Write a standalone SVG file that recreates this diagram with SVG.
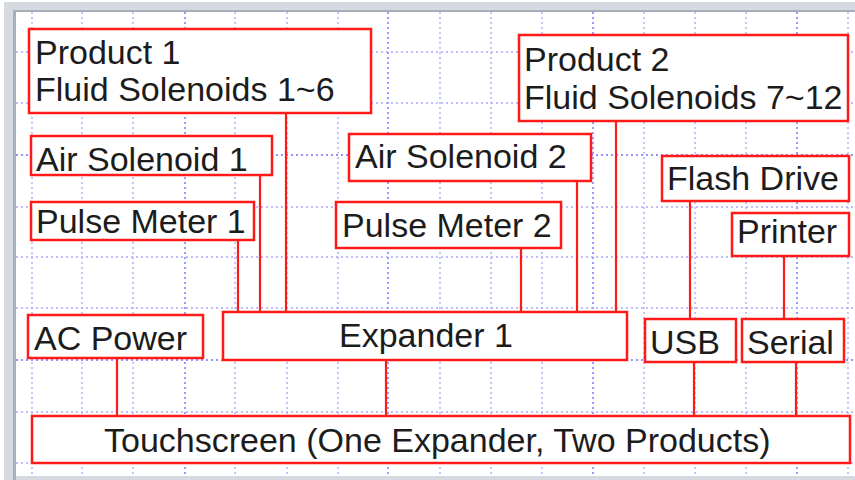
<svg xmlns="http://www.w3.org/2000/svg" width="855" height="480" viewBox="0 0 855 480">
<defs>
<style>
.bg{fill:#ffffff}
.frame{fill:#d6dae0}
.frameEdge{fill:#a7afba}
.g{stroke:#a8a8ff;stroke-width:1.3;stroke-dasharray:2 3;fill:none}
.gm{stroke:#7272ff;stroke-width:1.4;stroke-dasharray:2 3;fill:none}
.box{fill:#ffffff;stroke:#ff1a1a;stroke-width:2.5}
.t{font-family:"Liberation Sans",Arial,sans-serif;font-size:34px;fill:#1c1c1c}
.c{stroke:#ff1a1a;stroke-width:2.2;fill:none}
</style>
</defs>
<rect class="bg" x="0" y="0" width="855" height="480"/>
<!-- window frame -->
<rect class="frame" x="4" y="2" width="851" height="10"/>
<rect class="frame" x="4" y="2" width="12" height="478"/>
<rect class="frameEdge" x="13" y="10" width="3" height="470"/>
<rect class="frameEdge" x="13" y="10" width="842" height="2"/>
<rect class="frame" x="16" y="476" width="839" height="4"/>
<!-- grid -->
<g id="grid">
<path class="g" d="M32 12V476M82 12V476M133 12V476M235 12V476M287 12V476M338 12V476M440 12V476M491 12V476M542 12V476M644 12V476M695 12V476M746 12V476M848 12V476"/>
<path class="gm" d="M185 12V476M388 12V476M593 12V476M797 12V476"/>
<path class="g" d="M16 52H855M16 103H855M16 207H855M16 257H855M16 308H855M16 412H855M16 463H855"/>
<path class="gm" d="M16 155H855M16 360H855"/>
</g>
<!-- connectors -->
<g id="connectors">
<path class="c" d="M238 240V312M260 175V312M286 113V312"/>
<path class="c" d="M521 248V312M577 181V312M616 121V312"/>
<path class="c" d="M690 201V319M784 256V319"/>
<path class="c" d="M117 358V416M386 360V416M694 362V416M796 362V416"/>
</g>
<g id="product1"><rect class="box" x="29" y="29" width="342" height="84"/><text class="t" x="35" y="64">Product 1</text><text class="t" x="35" y="101">Fluid Solenoids 1~6</text></g>
<g id="product2"><rect class="box" x="519" y="35" width="329" height="86"/><text class="t" x="524" y="71">Product 2</text><text class="t" x="524" y="109">Fluid Solenoids 7~12</text></g>
<g id="airSolenoid1"><rect class="box" x="31" y="136" width="241" height="39"/><text class="t" x="36" y="171">Air Solenoid 1</text></g>
<g id="pulseMeter1"><rect class="box" x="31" y="202" width="223" height="38"/><text class="t" x="36" y="233">Pulse Meter 1</text></g>
<g id="airSolenoid2"><rect class="box" x="349" y="134" width="242" height="47"/><text class="t" x="355" y="168">Air Solenoid 2</text></g>
<g id="pulseMeter2"><rect class="box" x="336" y="202" width="225" height="46"/><text class="t" x="342" y="237">Pulse Meter 2</text></g>
<g id="flashDrive"><rect class="box" x="662" y="156" width="187" height="45"/><text class="t" x="667" y="190">Flash Drive</text></g>
<g id="printer"><rect class="box" x="732" y="213" width="117" height="43"/><text class="t" x="737" y="243">Printer</text></g>
<g id="acPower"><rect class="box" x="28" y="315" width="175" height="43"/><text class="t" x="34" y="350">AC Power</text></g>
<g id="expander1"><rect class="box" x="223" y="312" width="404" height="48"/><text class="t" x="339" y="347">Expander 1</text></g>
<g id="usb"><rect class="box" x="645" y="319" width="91" height="43"/><text class="t" x="650" y="354">USB</text></g>
<g id="serial"><rect class="box" x="742" y="319" width="102" height="43"/><text class="t" x="747" y="354">Serial</text></g>
<g id="touchscreen"><rect class="box" x="32" y="416" width="818" height="47"/><text class="t" x="104" y="452">Touchscreen (One Expander, Two Products)</text></g>
</svg>
